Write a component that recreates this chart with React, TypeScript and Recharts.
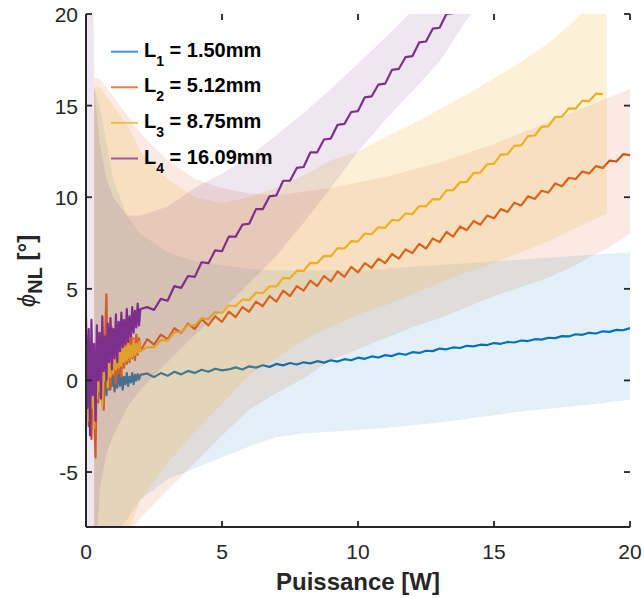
import React from 'react';
import { ComposedChart, Line, Area, XAxis, YAxis } from 'recharts';

// ---------- data ----------
const power = [
  0, 0.05, 0.1, 0.15, 0.2, 0.25, 0.3, 0.35, 0.4, 0.45, 0.5, 0.55, 0.6, 0.65, 0.7, 0.75, 0.8, 0.85, 0.9, 0.95,
  1, 1.05, 1.1, 1.15, 1.2, 1.25, 1.3, 1.35, 1.4, 1.45, 1.5, 1.55, 1.6, 1.65, 1.7, 1.75, 1.8, 1.85, 1.9, 1.95, 2,
  2.25, 2.5, 2.75, 3, 3.25, 3.5, 3.75, 4, 4.25, 4.5, 4.75, 5, 5.25, 5.5, 5.75, 6,
  6.25, 6.5, 6.75, 7, 7.25, 7.5, 7.75, 8, 8.25, 8.5, 8.75, 9, 9.25, 9.5, 9.75, 10,
  10.25, 10.5, 10.75, 11, 11.25, 11.5, 11.75, 12, 12.25, 12.5, 12.75, 13, 13.25, 13.5, 13.75, 14,
  14.25, 14.5, 14.75, 15, 15.25, 15.5, 15.75, 16, 16.25, 16.5, 16.75, 17, 17.25, 17.5, 17.75, 18,
  18.25, 18.5, 18.75, 19, 19.25, 19.5, 19.75, 20,
];

const phiL1 = [
  0.5, -1.0, 1.2, -0.8, 0.9, -1.3, 0.6, -0.5, 1.0, -0.9, 0.4, -0.7, 0.8, -0.4, 0.5, -0.8, 0.3, -0.5, 0.6, -0.3,
  0.4, -0.6, 0.2, -0.4, 0.5, -0.3, 0.3, -0.5, 0.2, -0.2, 0.4, -0.3, 0.2, -0.1, 0.4, -0.2, 0.3, 0.0, 0.35, 0.05, 0.3,
  0.38, 0.18, 0.4, 0.25, 0.47, 0.33, 0.52, 0.41, 0.58, 0.47, 0.64, 0.55, 0.6, 0.71, 0.6, 0.77,
  0.7, 0.83, 0.74, 0.9, 0.82, 0.95, 0.87, 0.99, 0.93, 1.05, 0.97, 1.1, 1.03, 1.16, 1.1, 1.24,
  1.18, 1.31, 1.25, 1.38, 1.33, 1.47, 1.4, 1.54, 1.5, 1.62, 1.6, 1.74, 1.7, 1.8, 1.77, 1.89,
  1.86, 1.95, 1.93, 2.04, 2.0, 2.1, 2.07, 2.18, 2.15, 2.25, 2.23, 2.33, 2.31, 2.42, 2.4, 2.52,
  2.49, 2.6, 2.56, 2.68, 2.65, 2.76, 2.74, 2.86,
];

const phiL2 = [
  -0.5, 1.8, -2.5, 1.2, -3.2, 0.8, -1.8, -4.2, 1.5, -1.2, 2.6, -0.8, 1.9, -1.6, 2.2, 4.7, 0.2, 2.4, -0.5, 2.9,
  0.3, 2.1, -0.2, 2.6, 0.4, 1.9, 0.2, 2.3, 0.7, 2.5, 0.9, 2.2, 1.0, 2.6, 1.2, 2.3, 1.1, 2.5, 1.4, 2.3, 1.6,
  2.25, 1.95, 2.5, 2.25, 2.85, 2.6, 3.1, 2.8, 3.35, 3.0, 3.5, 3.2, 3.75, 3.45, 4.0, 3.75,
  4.3, 4.05, 4.6, 4.3, 4.9, 4.6, 5.15, 4.9, 5.45, 5.15, 5.7, 5.4, 5.95, 5.65, 6.2, 5.9,
  6.4, 6.15, 6.65, 6.4, 6.9, 6.65, 7.15, 6.95, 7.45, 7.2, 7.75, 7.55, 8.1, 7.85, 8.4, 8.2,
  8.7, 8.5, 9.0, 8.85, 9.35, 9.2, 9.7, 9.55, 10.05, 9.9, 10.35, 10.25, 10.75, 10.6, 11.05, 11.0,
  11.4, 11.3, 11.7, 11.6, 12.0, 11.95, 12.35, 12.3,
];

const phiL3 = [
  -1.0, 0.8, -2.2, 0.4, -1.5, 1.0, -2.6, 0.2, -1.0, 1.6, -0.6, 0.9, -1.4, 1.2, 0.0, 2.0, -0.4, 1.4, 0.2, 2.5,
  0.4, 1.7, 0.6, 2.1, 0.7, 1.9, 0.8, 2.2, 1.0, 1.8, 1.1, 2.1, 1.2, 1.9, 1.3, 2.2, 1.4, 2.0, 1.5, 2.1, 1.6,
  1.82, 1.8, 2.2, 2.18, 2.63, 2.63, 3.03, 2.99, 3.4, 3.35, 3.73, 3.68, 4.09, 4.05, 4.42, 4.38,
  4.8, 4.76, 5.14, 5.13, 5.59, 5.58, 5.99, 5.98, 6.42, 6.4, 6.8, 6.78, 7.22, 7.2, 7.6, 7.58,
  8.02, 7.98, 8.36, 8.33, 8.76, 8.73, 9.11, 9.08, 9.52, 9.5, 9.9, 9.88, 10.37, 10.39, 10.82, 10.83,
  11.32, 11.35, 11.8, 11.83, 12.32, 12.35, 12.8, 12.83, 13.33, 13.37, 13.84, 13.88, 14.37, 14.4, 14.85, 14.83,
  15.27, 15.25, 15.65, 15.63,
];

const phiL4 = [
  3.4, -1.5, 2.8, -3.0, 3.3, -0.8, 2.0, -2.2, 3.0, 0.0, 2.6, -1.0, 3.5, 0.5, 2.4, 0.0, 3.1, 1.0, 3.4, 0.6,
  2.8, 1.2, 3.6, 1.0, 3.2, 1.6, 3.7, 1.8, 3.3, 2.0, 3.9, 2.1, 3.5, 2.4, 4.0, 2.6, 3.8, 2.9, 4.2, 3.0, 3.9,
  4.0, 3.85, 4.45, 4.35, 5.15, 5.05, 5.7, 5.65, 6.45, 6.4, 7.1, 7.05, 7.85, 7.85, 8.5, 8.55,
  9.35, 9.35, 10.05, 10.1, 10.9, 10.9, 11.6, 11.65, 12.45, 12.45, 13.15, 13.2, 13.95, 14.0, 14.65, 14.7,
  15.45, 15.5, 16.15, 16.2, 16.95, 17.0, 17.65, 17.7, 18.45, 18.5, 19.2, 19.25, 20.0, 20.05, 20.75, 20.8,
];

// shaded dispersion bands
const bandPower = [0, 0.15, 0.3, 0.5, 0.75, 1, 1.5, 2, 3, 4, 5, 6, 7, 8, 9, 10, 11, 12, 13, 14, 15, 16, 17, 18, 19, 19.15, 20];

const lowL1 = [null, null, -40, -30, -15, -8.6, -7.6, -6.5, -5.4, -4.8, -4.2, -3.6, -3.1, -2.9, -2.8, -2.7, -2.6, -2.45, -2.3, -2.1, -1.9, -1.7, -1.55, -1.4, -1.25, -1.2, -1.05];
const highL1 = [null, null, 16, 15, 13, 11, 9, 8, 7.0, 6.5, 6.3, 6.1, 6.0, 6.0, 6.0, 6.0, 6.1, 6.2, 6.3, 6.4, 6.5, 6.6, 6.7, 6.8, 6.9, 6.92, 7.0];

const lowL2 = [null, null, -40, -30, -15, -10, -8.5, -7.5, -6.0, -4.5, -3.0, -1.6, -0.7, 0.1, 1.1, 1.7, 2.3, 2.9, 3.4, 4.0, 4.6, 5.1, 5.6, 6.3, 7.1, 7.2, 8.0];
const highL2 = [null, null, 16.5, 16.5, 16, 15.5, 14.5, 13.5, 12, 11, 10.5, 10.2, 10.1, 10.3, 10.5, 10.8, 11.1, 11.5, 11.9, 12.4, 12.9, 13.5, 14.1, 14.7, 15.3, 15.4, 15.9];

const lowL3 = [null, null, -40, -30, -15, -10, -8.5, -6.5, -4.5, -2.8, -1.3, 0.3, 1.2, 2.2, 2.9, 3.6, 4.1, 4.7, 5.3, 5.9, 6.4, 7.0, 7.6, 8.3, 9.0, 9.1, null];
const highL3 = [null, null, 16, 16, 15.5, 15, 14, 12.5, 11, 10, 9.7, 10.0, 10.5, 11.2, 12.0, 12.5, 13.3, 14.0, 14.8, 15.6, 16.5, 17.4, 18.4, 19.7, 21.2, 21.5, null];

const lowL4 = [-40, -40, -12, -6, -4, -3, -1.5, -0.5, 1.0, 2.5, 3.8, 5.3, 6.8, 8.6, 10.5, 12.5, 14.2, 15.8, 17.4, 19.7, 21.3, null, null, null, null, null, null];
const highL4 = [40, 40, 16, 13, 11, 10, 9, 9, 9.5, 10.5, 11.3, 12.2, 13.4, 14.6, 15.9, 17.3, 18.7, 20.2, 21.7, 23.2, 24.7, null, null, null, null, null, null];

const xTicks = [0, 5, 10, 15, 20];
const yTicks = [-5, 0, 5, 10, 15, 20];

const legendIndex = ['1', '2', '3', '4'];
const legendLength = ['1.50mm', '5.12mm', '8.75mm', '16.09mm'];

// ---------- styling / layout ----------
const colors = ['#0072BD', '#D95319', '#EDB120', '#7E2F8E'];
const bandOpacity = [0.11, 0.12, 0.18, 0.12];
const axisColor = '#262626';
const font = '"Liberation Sans", Arial, Helvetica, sans-serif';

const plot = { left: 86, right: 630, top: 14, bottom: 527 };
const xDomain = [0, 20];
const yDomain = [-8, 20];
const sx = (v: number) => plot.left + ((v - xDomain[0]) / (xDomain[1] - xDomain[0])) * (plot.right - plot.left);
const sy = (v: number) => plot.bottom - ((v - yDomain[0]) / (yDomain[1] - yDomain[0])) * (plot.bottom - plot.top);
const tickLen = 6;

const lineData = (vals: number[]) => vals.map((v, i) => ({ p: power[i], v }));
const bandData = (lo: (number | null)[], hi: (number | null)[]) =>
  bandPower
    .map((p, i) => ({ p, r: [lo[i], hi[i]] }))
    .filter((d) => d.r[0] !== null && d.r[1] !== null && d.r[0] !== undefined);

const series = [
  { line: lineData(phiL1), band: bandData(lowL1, highL1) },
  { line: lineData(phiL2), band: bandData(lowL2, highL2) },
  { line: lineData(phiL3), band: bandData(lowL3, highL3) },
  { line: lineData(phiL4), band: bandData(lowL4, highL4) },
];

const BottomLabel = (props: any) => {
  const { x, y, payload } = props;
  return (
    <text x={x} y={y + 32} textAnchor="middle" fontSize={21} fontFamily={font} fill={axisColor}>
      {payload.value}
    </text>
  );
};
const LeftLabel = (props: any) => {
  const { x, y, payload } = props;
  return (
    <text x={x - 8} y={y + 8} textAnchor="end" fontSize={21} fontFamily={font} fill={axisColor}>
      {payload.value}
    </text>
  );
};

const axisLineStyle = { stroke: axisColor, strokeWidth: 2 };

export default function App() {
  return (
    <div style={{ position: 'absolute', left: 0, top: 0, width: 644, height: 598, background: '#fff' }}>
      <ComposedChart width={644} height={598} margin={{ top: 14, right: 14, bottom: 0, left: 0 }}>
        <XAxis
          xAxisId={0}
          dataKey="p"
          type="number"
          domain={xDomain}
          ticks={xTicks}
          interval={0}
          allowDataOverflow
          height={71}
          tickSize={0}
          tickMargin={0}
          tickLine={false}
          tick={<BottomLabel />}
          axisLine={axisLineStyle}
        />
        <XAxis
          xAxisId="top"
          orientation="top"
          dataKey="p"
          type="number"
          domain={xDomain}
          ticks={xTicks}
          allowDataOverflow
          height={0}
          tickLine={false}
          tick={false}
          axisLine={axisLineStyle}
        />
        <YAxis
          yAxisId={0}
          type="number"
          domain={yDomain}
          ticks={yTicks}
          interval={0}
          allowDataOverflow
          width={86}
          tickSize={0}
          tickMargin={0}
          tickLine={false}
          tick={<LeftLabel />}
          axisLine={axisLineStyle}
        />
        <YAxis
          yAxisId="right"
          orientation="right"
          type="number"
          domain={yDomain}
          ticks={yTicks}
          allowDataOverflow
          width={0}
          tickLine={false}
          tick={false}
          axisLine={axisLineStyle}
        />
        {series.map((s, i) => [
          <Line
            key={'l' + i}
            data={s.line}
            dataKey="v"
            xAxisId={0}
            yAxisId={0}
            type="linear"
            stroke={colors[i]}
            strokeWidth={2.2}
            strokeLinejoin="round"
            dot={false}
            activeDot={false}
            isAnimationActive={false}
            zIndex={100 + i * 2}
          />,
          <Area
            key={'a' + i}
            data={s.band}
            dataKey="r"
            xAxisId={0}
            yAxisId={0}
            type="linear"
            stroke="none"
            fill={colors[i]}
            fillOpacity={bandOpacity[i]}
            dot={false}
            activeDot={false}
            isAnimationActive={false}
            zIndex={101 + i * 2}
          />,
        ])}
      </ComposedChart>

      <svg
        width={644}
        height={598}
        style={{ position: 'absolute', left: 0, top: 0, pointerEvents: 'none' }}
        fontFamily={font}
      >
        {/* inward tick marks on all four sides of the box */}
        {xTicks.map((v) => (
          <g key={'xt' + v}>
            <line x1={sx(v)} x2={sx(v)} y1={plot.bottom} y2={plot.bottom - tickLen} stroke={axisColor} strokeWidth={1.8} />
            <line x1={sx(v)} x2={sx(v)} y1={plot.top} y2={plot.top + tickLen} stroke={axisColor} strokeWidth={1.8} />
          </g>
        ))}
        {yTicks.map((v) => (
          <g key={'yt' + v}>
            <line x1={plot.left} x2={plot.left + tickLen} y1={sy(v)} y2={sy(v)} stroke={axisColor} strokeWidth={1.8} />
            <line x1={plot.right} x2={plot.right - tickLen} y1={sy(v)} y2={sy(v)} stroke={axisColor} strokeWidth={1.8} />
          </g>
        ))}

        {legendIndex.map((idx, i) => {
          const base = 56.7 + i * 35.6;
          return (
            <g key={idx}>
              <line x1={111} x2={138} y1={base - 5} y2={base - 5} stroke={colors[i]} strokeWidth={2} strokeOpacity={0.75} />
              <text x={144} y={base} fontSize={20} fontWeight="bold" fill="#000">
                <tspan>L</tspan>
                <tspan fontSize={14} dy={9}>{idx}</tspan>
                <tspan dy={-9}>{' = ' + legendLength[i]}</tspan>
              </text>
            </g>
          );
        })}
        <text x={358} y={590} textAnchor="middle" fontSize={24} fontWeight="bold" fill={axisColor}>
          Puissance [W]
        </text>
        <text
          x={35}
          y={271}
          textAnchor="middle"
          transform="rotate(-90, 35, 271)"
          fontSize={24}
          fill={axisColor}
        >
          <tspan fontStyle="italic">ϕ</tspan>
          <tspan fontWeight="bold" fontSize={20} dy={7}>NL</tspan>
          <tspan fontWeight="bold" dy={-7}>{' [°]'}</tspan>
        </text>
      </svg>
    </div>
  );
}
